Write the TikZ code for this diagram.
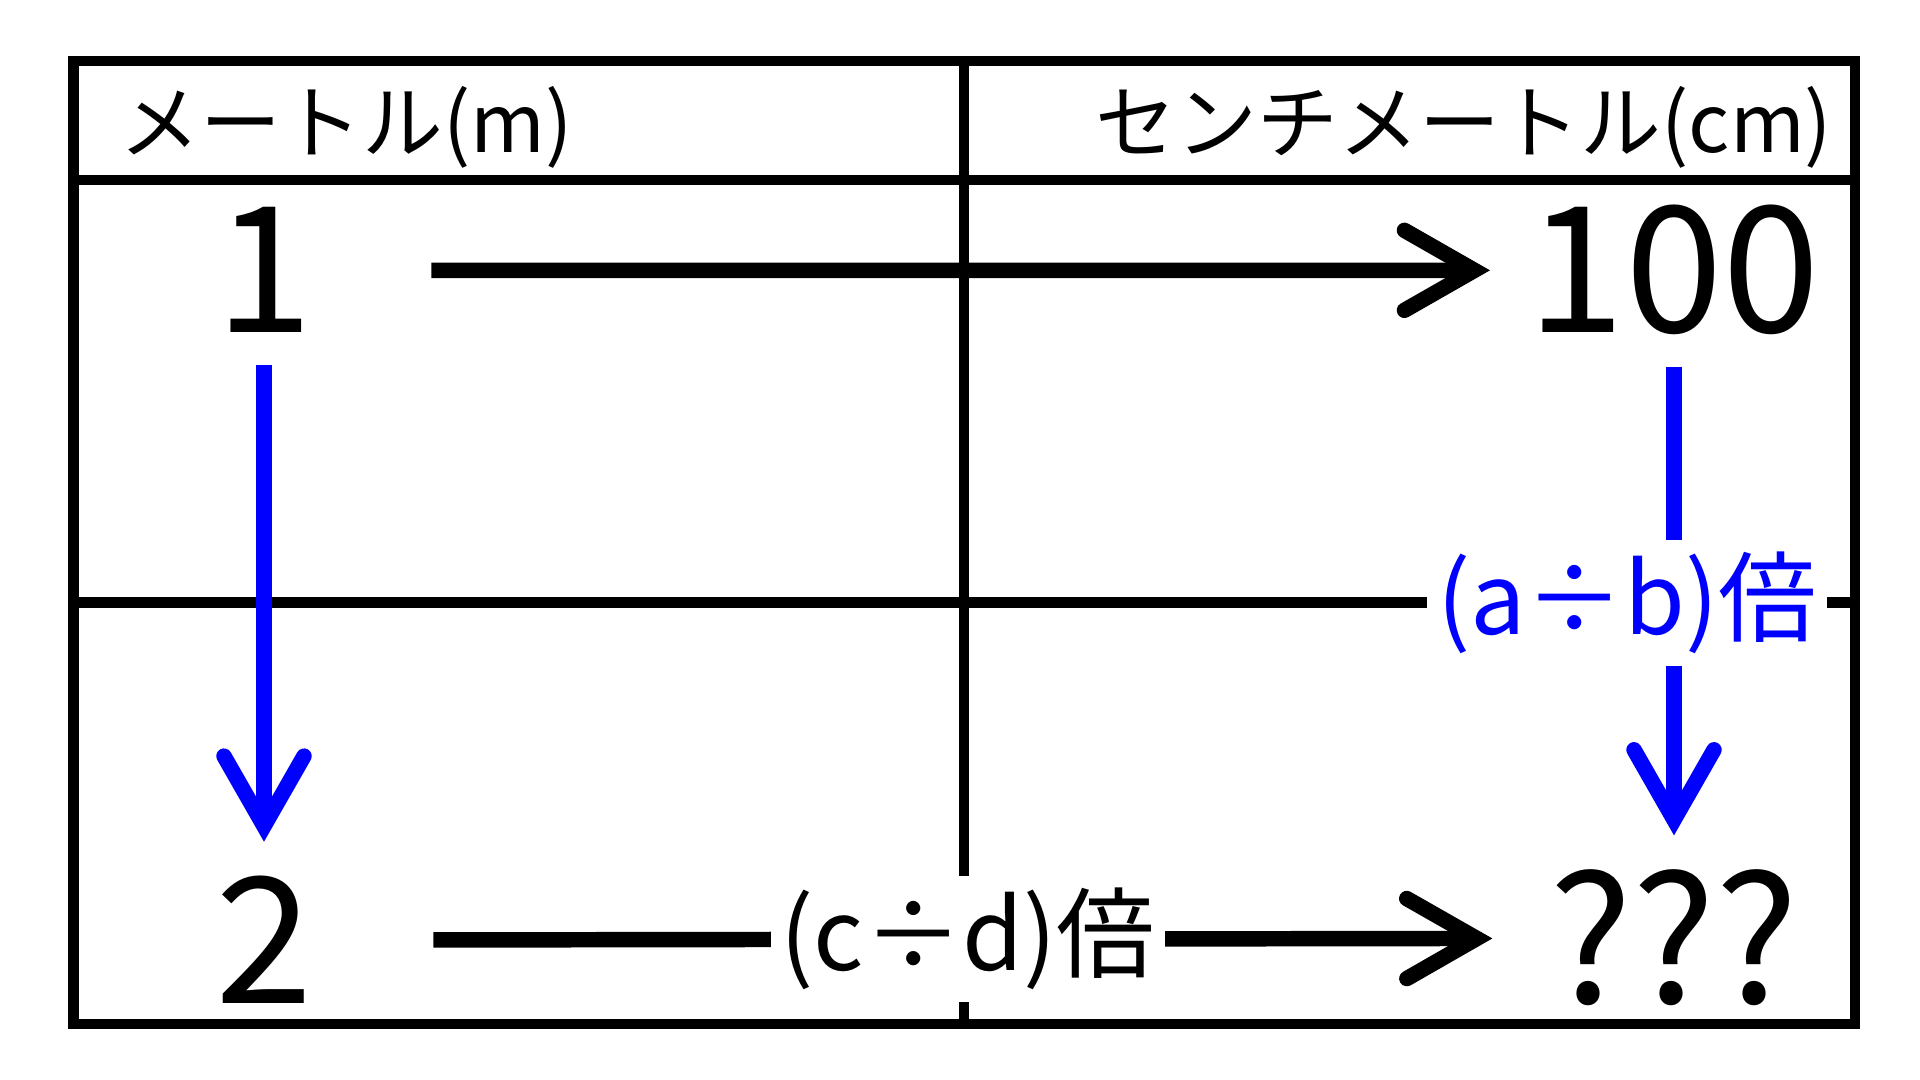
\documentclass[tikz,border=0pt]{standalone}
\usepackage{fontspec}
\setmainfont{Noto Sans CJK JP}
\usepackage{tikz}
\usetikzlibrary{arrows.meta}
\definecolor{ratioblue}{RGB}{0,0,255}

\begin{document}
\begin{tikzpicture}[>={Straight Barb[length=7mm,width=8mm,line cap=round,line join=miter]},
  grid/.style={line width=3.1pt},
  conv/.style={line width=4.4pt,->},
  num/.style={inner sep=0pt,anchor=base,font=\fontsize{50}{50}\selectfont},
  head/.style={inner sep=0pt,font=\fontsize{23}{23}\selectfont},
  ratio/.style={fill=white,inner xsep=1mm,inner ysep=0pt,minimum height=12.6mm,font=\fontsize{28}{28}\selectfont}]
\useasboundingbox (0,0) rectangle (19.2,10.8);
\draw[grid] (0.735,0.56) rectangle (18.55,10.19);
\draw[grid] (0.735,9.00) -- (18.55,9.00);
\draw[grid] (0.735,4.775) -- (18.55,4.775);
\draw[grid] (9.64,0.56) -- (9.64,10.19);
\node[head,anchor=base west] (mhead) at (1.19,9.27) {メートル(m)};
\node[head,anchor=base east] (cmhead) at (18.33,9.27) {センチメートル(cm)};
\node[num] (m1) at (2.64,7.47) {1};
\node[num] (cm1) at (16.74,7.47) {100};
\node[num] (m2) at (2.64,0.76) {2};
\node[num] (cm2) at (16.74,0.76) {???};
\draw[conv,shorten <=1.18cm,shorten >=0.37cm] (m1) -- (cm1);
\draw[conv,ratioblue,shorten <=0.31cm,shorten >=0.34cm] (m1) -- (m2);
\draw[conv,ratioblue,shorten <=0.31cm,shorten >=0.34cm] (cm1) -- node[ratio,xshift=-4.7mm] {(a÷b)倍} (cm2);
\draw[conv,shorten <=1.2cm,shorten >=0.56cm] (m2) -- node[ratio,pos=0.53] {(c÷d)倍} (cm2);
\end{tikzpicture}
\end{document}
